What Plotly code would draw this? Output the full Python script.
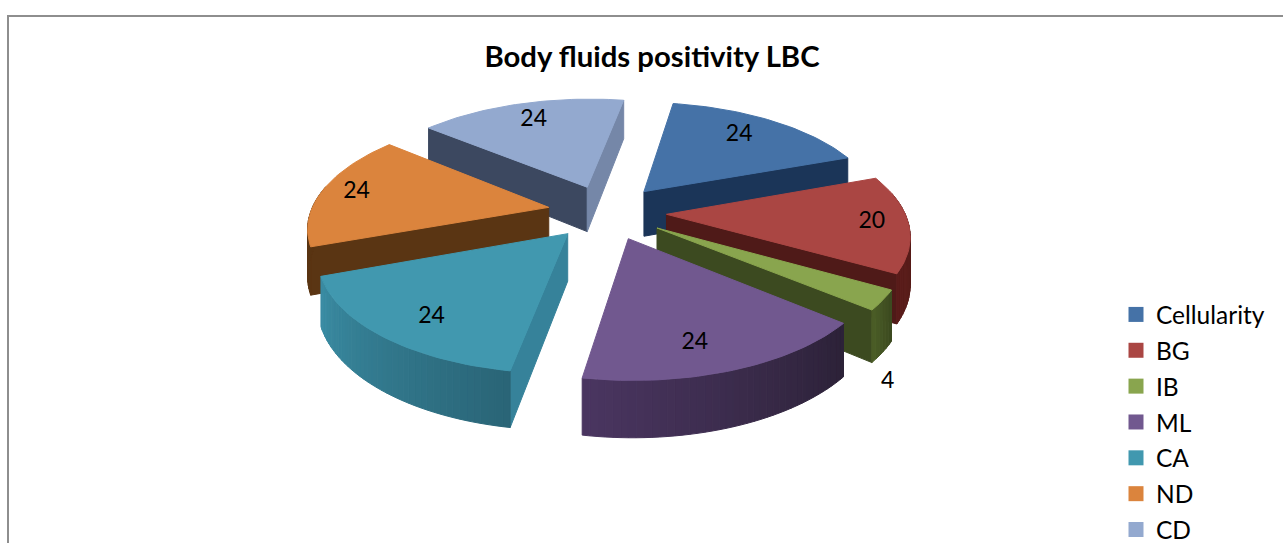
import math
import plotly.graph_objects as go

categories = ["Cellularity", "BG", "IB", "ML", "CA", "ND", "CD"]
values = [24, 20, 4, 24, 24, 24, 24]
title = "Body fluids positivity LBC"

top_colors = ["#4572A7", "#AA4643", "#89A54E", "#71588F", "#4198AF", "#DB843D", "#93A9CF"]
start_face = ["#1B3558", "#4F1A18", "#3C4A20", "#3A2A4E", "#36829A", "#5A3513", "#3C4860"]
end_face = ["#1B3558", "#4F1A18", "#3C4A20", "#3A2A4E", "#2A6577", "#5A3513", "#7587A8"]
rim_left = ["#1B3558", "#5A1C1A", "#4A5C26", "#4A3560", "#3A8CA3", "#5A3513", "#3C4860"]
rim_right = ["#1B3558", "#4F1A18", "#3C4A20", "#2C2238", "#2A6577", "#5A3513", "#3C4860"]
label_frac = [0.76, 0.85, 1.02, 0.80, 0.80, 0.85, 0.78]
label_turn = [-2, 0, 0, 4, -3, 0, 0]
label_drop = [0, 0, 1.55, 0, 0, 0, 0]

START = 9.8
CX, CY = 607.0, 212.0
F, TILT, PERSP = 238.0, 0.46, 0.16
EXPLODE, DEPTH = 0.25, 46.0


def project(px, py, z=0.0):
    d = 1 + PERSP * py
    return CX + F * px / d, CY - (F * TILT * py - z * DEPTH) / d


def mix(a, b, t):
    ca = [int(a[i:i + 2], 16) for i in (1, 3, 5)]
    cb = [int(b[i:i + 2], 16) for i in (1, 3, 5)]
    return "#%02x%02x%02x" % tuple(round(p + (q - p) * t) for p, q in zip(ca, cb))


def poly(points, color):
    xs = [p[0] for p in points] + [points[0][0]]
    ys = [p[1] for p in points] + [points[0][1]]
    return go.Scatter(x=xs, y=ys, mode="lines", fill="toself", fillcolor=color,
                      line=dict(color=color, width=1), hoverinfo="skip", showlegend=False)


total = sum(values)
spans = []
a = START
for v in values:
    b = a + 360.0 * v / total
    spans.append((a, b))
    a = b

fig = go.Figure()
order = sorted(range(len(values)),
               key=lambda i: -math.cos(math.radians((spans[i][0] + spans[i][1]) / 2)))
label_x, label_y = [0] * len(values), [0] * len(values)

for i in order:
    a0, a1 = spans[i]
    mid = math.radians((a0 + a1) / 2)
    ox, oy = EXPLODE * math.sin(mid), EXPLODE * math.cos(mid)
    n = max(4, int((a1 - a0) / 1.5))
    angs = [math.radians(a0 + (a1 - a0) * k / n) for k in range(n + 1)]
    edge = [(ox + math.sin(t), oy + math.cos(t)) for t in angs]
    # radial faces that look toward the viewer
    if math.sin(math.radians(a0)) < 0:
        pt = edge[0]
        fig.add_trace(poly([project(ox, oy), project(*pt), project(*pt, 1), project(ox, oy, 1)], start_face[i]))
    if math.sin(math.radians(a1)) > 0:
        pt = edge[-1]
        fig.add_trace(poly([project(ox, oy), project(*pt), project(*pt, 1), project(ox, oy, 1)], end_face[i]))
    # outer rim strips
    for k in range(n):
        if math.cos((angs[k] + angs[k + 1]) / 2) < 0.2:
            col = mix(rim_right[i], rim_left[i], k / max(1, n - 1))
            fig.add_trace(poly([project(*edge[k]), project(*edge[k + 1]),
                                project(*edge[k + 1], 1), project(*edge[k], 1)], col))
    # top
    fig.add_trace(poly([project(ox, oy)] + [project(*p) for p in edge], top_colors[i]))
    lab = mid + math.radians(label_turn[i])
    lx, ly = project(ox + label_frac[i] * math.sin(lab), oy + label_frac[i] * math.cos(lab), label_drop[i])
    label_x[i], label_y[i] = lx, ly

fig.add_trace(go.Scatter(x=label_x, y=label_y, mode="text", text=[str(v) for v in values],
                         textfont=dict(family="Lato", size=23, color="#000000"),
                         hoverinfo="skip", showlegend=False))

for name, col in zip(categories, top_colors):
    fig.add_trace(go.Scatter(x=[None], y=[None], mode="markers", name=name, legendgroup=name,
                             marker=dict(symbol="square", size=15, color=col)))

fig.update_layout(
    width=1283, height=543, autosize=False,
    margin=dict(l=0, r=0, t=0, b=0, autoexpand=False),
    paper_bgcolor="white", plot_bgcolor="white",
    xaxis=dict(range=[0, 1283], visible=False, fixedrange=True),
    yaxis=dict(range=[543, 0], visible=False, fixedrange=True),
    title=dict(text="<b>" + title + "</b>", x=652 / 1283, xanchor="center", y=1 - 57 / 543, yanchor="middle",
               font=dict(family="Lato", size=29.3, color="#000000")),
    legend=dict(x=1116 / 1283, xanchor="left", y=1 - 292 / 543, yanchor="top",
                font=dict(family="Lato", size=24.5, color="#000000"),
                tracegroupgap=1, bgcolor="rgba(0,0,0,0)", itemclick=False, itemdoubleclick=False),
    shapes=[dict(type="path", xref="paper", yref="paper",
                 path="M %f 0 L %f %f L 1 %f" % (8 / 1283, 8 / 1283, 1 - 16 / 543, 1 - 16 / 543),
                 line=dict(color="#8e8e8e", width=2))],
)
fig.write_html("out.html", config=dict(displayModeBar=False),
               post_script="document.body.style.margin='0';document.documentElement.style.overflow='hidden';")
